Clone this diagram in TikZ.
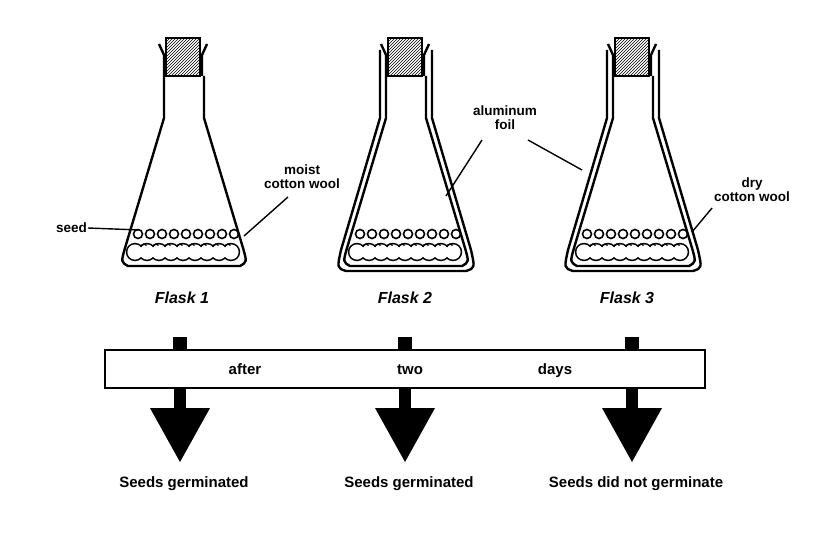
\documentclass[tikz,border=0pt]{standalone}
\usepackage{fontspec}
\setmainfont{Liberation Sans}
\usetikzlibrary{patterns}
\begin{document}
\begin{tikzpicture}[x=1pt,y=-1pt,
  lbl/.style={font=\bfseries\fontsize{13.5}{14}\selectfont,align=center,inner sep=1pt},
  blbl/.style={font=\bfseries\fontsize{15}{16}\selectfont,inner sep=1pt,anchor=base},
  flbl/.style={font=\bfseries\itshape\fontsize{16}{17}\selectfont},
  ln/.style={line width=1.4pt},
  fl/.style={line width=2.4pt,line join=round}]
\useasboundingbox (0,0) rectangle (826,532);
\newcommand\flaskbody[2]{% center, foil
 \begin{scope}[shift={(#1,0)}]
  % stopper
  \fill[pattern=north east lines] (-17,38) rectangle (17,76);
  \draw[line width=2pt] (-17,38) rectangle (17,76);
  \draw[fl] (-19,76) -- (-19,55) -- (-24,44);
  \draw[fl] (19,76) -- (19,55) -- (24,44);
  % cotton wool
  \foreach \i in {-48,-36,...,54}{\fill (\i,252) circle (9.2);}
  \foreach \i in {-48,-36,...,54}{\fill[white] (\i,252) circle (7.6);}
  \foreach \i in {-42,-30,...,48}{\draw[line width=1.2pt] (\i,247) arc (180:330:3);}
  \foreach \i in {-45,-33,...,55}{\draw[line width=1.6pt,fill=white] (\i,234) circle (4.5);}
  % body
  \draw[fl] (-19,76) -- (-19,118) -- (-58,248) .. controls (-62,262) .. (-55,266) -- (57,266) .. controls (64,262) .. (60,248) -- (21,118) -- (21,76);
  \ifnum#2=1
  \draw[fl] (-25,50) -- (-25,118) -- (-64,250) .. controls (-68,268) .. (-59,271) -- (61,271) .. controls (70,268) .. (66,250) -- (27,118) -- (27,50);
  \fi
 \end{scope}}
\flaskbody{183}{0}
\flaskbody{405}{1}
\flaskbody{632}{1}
% labels
\node[lbl,anchor=east] (seed) at (88,228) {seed};
\coordinate (seedend) at (140,230);
\draw[ln] (seed.east) -- (seedend);
\node[lbl] (moist) at (302,177) {moist\\cotton wool};
\coordinate (m1) at (288,197);
\coordinate (moistend) at (244,236);
\draw[ln] (m1) -- (moistend);
\node[lbl] (foil) at (505,118) {aluminum\\foil};
\coordinate (fa) at (482,140);
\coordinate (fb) at (528,140);
\coordinate (f2) at (446,196);
\coordinate (f3) at (582,170);
\draw[ln] (fa) -- (f2);
\draw[ln] (fb) -- (f3);
\node[lbl] (dry) at (752,190) {dry\\cotton wool};
\coordinate (d1) at (712,208);
\coordinate (dryend) at (692,232);
\draw[ln] (d1) -- (dryend);
\node[flbl] (fl1) at (182,298) {Flask 1};
\node[flbl] (fl2) at (405,298) {Flask 2};
\node[flbl] (fl3) at (627,298) {Flask 3};
% bar
\node[draw,line width=1.6pt,minimum width=600pt,minimum height=38pt,inner sep=0] (bar) at (405,369) {};
\node[blbl] (t1) at (245,374) {after};
\node[blbl] (t2) at (410,374) {two};
\node[blbl] (t3) at (555,374) {days};
\foreach \c/\n/\t in {180/r1/Seeds germinated,405/r2/Seeds germinated,632/r3/Seeds did not germinate}{
  \fill (\c-7,337) rectangle (\c+7,350);
  \fill (\c-6,388) rectangle (\c+6,412);
  \fill (\c-30,408) -- (\c+30,408) -- (\c,462) -- cycle;
  \node[blbl] (\n) at (\c+4,487) {\t};
}
\end{tikzpicture}
\end{document}
